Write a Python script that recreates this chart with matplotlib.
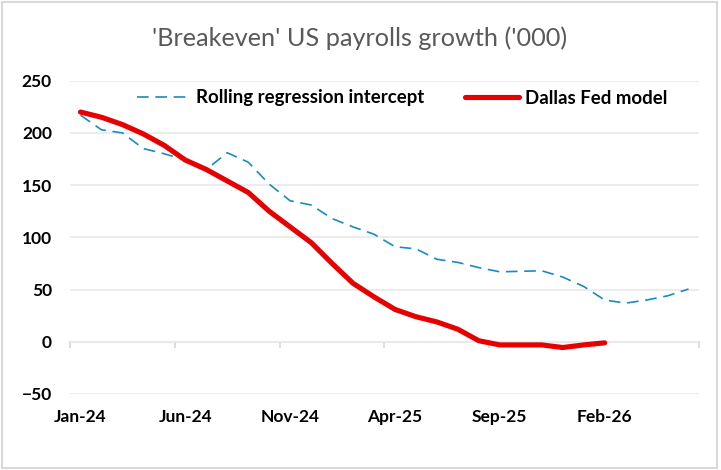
import matplotlib
matplotlib.use("Agg")
import matplotlib.pyplot as plt
from matplotlib.patches import Rectangle

# monthly categories, Jan-24 .. Jun-26
months = ["Jan-24", "Feb-24", "Mar-24", "Apr-24", "May-24", "Jun-24", "Jul-24", "Aug-24",
          "Sep-24", "Oct-24", "Nov-24", "Dec-24", "Jan-25", "Feb-25", "Mar-25", "Apr-25",
          "May-25", "Jun-25", "Jul-25", "Aug-25", "Sep-25", "Oct-25", "Nov-25", "Dec-25",
          "Jan-26", "Feb-26", "Mar-26", "Apr-26", "May-26", "Jun-26"]

rolling_intercept = [217, 203, 200, 185, 180, 174, 165, 181, 172, 151,
                     135, 131, 118, 110, 103, 91, 89, 79, 76, 71,
                     67, 67.5, 68, 62, 53, 40, 37, 40, 44, 50.5]

dallas_fed = [220, 215, 208, 199, 188, 174, 165, 154, 143, 125,
              110, 95, 75, 56, 43, 31, 24, 19, 12, 1,
              -3, -3, -3, -5.5, -3, -1]

label_every = 5

plt.rcParams["font.family"] = ["Lato", "DejaVu Sans"]
text_color = "#595959"
grid_color = "#EBEBEB"
axis_color = "#D9D9D9"
blue = "#1B8AC0"
red = "#E60000"

fig = plt.figure(figsize=(7.21, 4.70), dpi=100)
ax = fig.add_axes([70 / 721, 1 - 394 / 470, 629 / 721, (394 - 80.7) / 470])

x_blue = range(len(rolling_intercept))
x_red = range(len(dallas_fed))
ax.plot(x_blue, rolling_intercept, color=blue, lw=1.2, dashes=(7, 4),
        label="Rolling regression intercept")
ax.plot(x_red, dallas_fed, color=red, lw=3.7, solid_capstyle="round",
        label="Dallas Fed model")

ax.set_xlim(-0.5, len(months) - 0.5)
ax.set_ylim(-50, 250)
ax.set_yticks(range(-50, 251, 50))
ax.grid(axis="y", color=grid_color, lw=1.3)
ax.set_axisbelow(True)

for s in ax.spines.values():
    s.set_visible(False)

ticks = list(range(0, len(months), label_every))
ax.set_xticks(ticks)
ax.set_xticklabels([months[i] for i in ticks])
ax.tick_params(axis="x", length=0, pad=11)
ax.tick_params(axis="y", length=0, pad=13)
for lab in ax.get_xticklabels() + ax.get_yticklabels():
    lab.set_fontweight("bold")
    lab.set_fontsize(12.5)
    lab.set_color("black")

# category axis line sits at zero, ticks between categories
zero_frac = (0 - (-50)) / 300
sec = ax.secondary_xaxis(zero_frac)
sec.set_xticks([t - 0.5 for t in range(0, len(months) + 1, label_every)])
sec.set_xticklabels([])
sec.tick_params(axis="x", direction="out", length=4, width=1.3, color=axis_color)
sec.spines["bottom"].set_color(axis_color)
sec.spines["bottom"].set_linewidth(1.5)

leg = ax.legend(loc="center", bbox_to_anchor=(402 / 721, 1 - 98 / 470),
                bbox_transform=fig.transFigure, ncol=2, frameon=False,
                handlelength=2.9, columnspacing=2.2, handletextpad=0.3,
                prop={"weight": "bold", "size": 13.4})

fig.text(0.499, 1 - 38 / 470, "'Breakeven' US payrolls growth ('000)",
         ha="center", va="center", fontsize=18.2, color=text_color)

fig.patches.append(Rectangle((1.5 / 721, 1 - 467.5 / 470), 715.5 / 721, 466 / 470,
                             transform=fig.transFigure, fill=False,
                             edgecolor=axis_color, lw=1.5))

fig.savefig("out.png", dpi=100, facecolor="white")
